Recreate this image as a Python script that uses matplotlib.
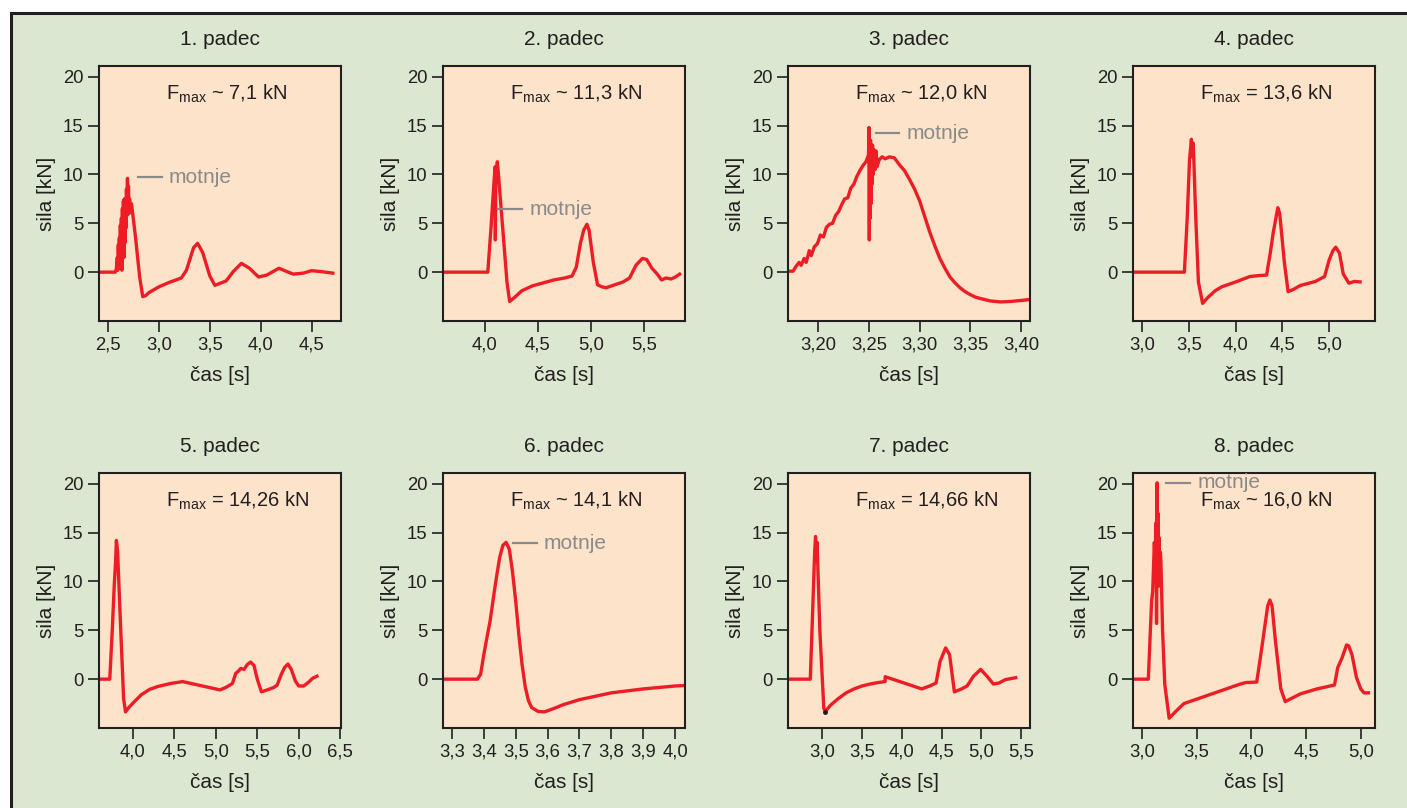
import numpy as np
import matplotlib
matplotlib.use("Agg")
import matplotlib.pyplot as plt
from matplotlib.patches import Rectangle

plt.rcParams['font.family'] = ['Liberation Sans', 'DejaVu Sans']
plt.rcParams['mathtext.fontset'] = 'custom'
plt.rcParams['mathtext.rm'] = 'Liberation Sans'

# --- data: time [s], force [kN] ---
t1 = [2.41, 2.57, 2.58, 2.59, 2.595, 2.60, 2.605, 2.61, 2.615, 2.62, 2.625, 2.63, 2.635, 2.64,
      2.645, 2.65, 2.655, 2.66, 2.665, 2.67, 2.675, 2.68, 2.685, 2.69, 2.695, 2.70, 2.705, 2.71,
      2.72, 2.73, 2.77, 2.81, 2.84, 2.87, 2.90, 2.95, 3.00, 3.10, 3.22, 3.27, 3.34, 3.38, 3.43,
      3.50, 3.55, 3.66, 3.73, 3.81, 3.89, 3.98, 4.06, 4.18, 4.26, 4.32, 4.42, 4.50, 4.60, 4.71]
f1 = [0, 0, 0.3, 1.5, 0.2, 2.8, 0.5, 3.5, 0.4, 4.8, 0.8, 5.5, 0.2, 6.5,
      2.5, 7.3, 1.5, 7.5, 3.0, 6.8, 4.5, 8.5, 5.8, 9.6, 6.5, 8.8, 6.0, 7.5,
      6.8, 7.0, 3.5, -0.5, -2.5, -2.4, -2.1, -1.8, -1.5, -1.05, -0.6, 0.2, 2.5, 2.95, 2.0,
      -0.4, -1.35, -0.9, 0.05, 0.9, 0.4, -0.5, -0.3, 0.4, 0.05, -0.2, -0.1, 0.15, 0.05, -0.1]

t2 = [3.61, 4.03, 4.06, 4.09, 4.10, 4.101, 4.105, 4.11, 4.12, 4.13, 4.17, 4.21, 4.235, 4.28,
      4.35, 4.45, 4.55, 4.65, 4.75, 4.82, 4.86, 4.90, 4.93, 4.96, 4.98, 5.02, 5.06, 5.10, 5.14,
      5.22, 5.30, 5.36, 5.42, 5.48, 5.52, 5.57, 5.62, 5.66, 5.70, 5.75, 5.79, 5.83]
f2 = [0, 0, 4.5, 9.5, 10.8, 3.3, 9.0, 10.5, 11.3, 10.0, 4.5, -1.0, -3.0, -2.6,
      -1.9, -1.4, -1.1, -0.8, -0.6, -0.4, 0.5, 3.0, 4.3, 4.9, 4.3, 1.0, -1.3, -1.5, -1.6,
      -1.3, -1.0, -0.6, 0.7, 1.4, 1.3, 0.4, -0.2, -0.8, -0.6, -0.7, -0.5, -0.2]

t3 = [3.171, 3.175, 3.178, 3.181, 3.183, 3.186, 3.188, 3.191, 3.193, 3.196, 3.199, 3.202,
      3.205, 3.208, 3.211, 3.214, 3.217, 3.220, 3.223, 3.226, 3.229, 3.232, 3.235, 3.238,
      3.241, 3.244, 3.247, 3.2495, 3.2500, 3.2503, 3.2506, 3.2510, 3.2515, 3.252, 3.2525,
      3.253, 3.2535, 3.254, 3.255, 3.256, 3.257, 3.258, 3.260, 3.263, 3.266, 3.270, 3.275,
      3.280, 3.285, 3.290, 3.295, 3.300, 3.305, 3.310, 3.315, 3.320, 3.325, 3.330, 3.335,
      3.340, 3.345, 3.350, 3.355, 3.360, 3.370, 3.380, 3.390, 3.400, 3.409]
f3 = [0.1, 0.1, 0.6, 1.0, 0.7, 1.4, 1.0, 2.2, 1.7, 2.6, 2.9, 3.8,
      3.6, 4.6, 4.9, 5.0, 5.8, 6.2, 6.9, 7.5, 7.6, 8.6, 9.0, 9.8,
      10.4, 10.9, 11.3, 12.0, 14.8, 3.3, 12.5, 5.5, 13.5, 7.0, 12.8,
      9.0, 13.0, 10.0, 12.5, 10.5, 12.4, 10.8, 11.5, 11.8, 11.6, 11.8, 11.7,
      11.0, 10.4, 9.5, 8.5, 7.3, 5.7, 4.1, 2.7, 1.4, 0.4, -0.5, -1.1,
      -1.6, -2.0, -2.3, -2.55, -2.7, -2.95, -3.05, -3.0, -2.9, -2.8]

t4 = [2.90, 3.45, 3.48, 3.505, 3.525, 3.535, 3.545, 3.57, 3.60, 3.645, 3.70, 3.78, 3.85,
      4.00, 4.15, 4.25, 4.33, 4.37, 4.40, 4.45, 4.47, 4.52, 4.56, 4.62, 4.69, 4.85, 4.95,
      5.00, 5.04, 5.07, 5.11, 5.15, 5.21, 5.27, 5.33]
f4 = [0, 0, 5.5, 11.5, 13.6, 11.8, 13.2, 6.0, -1.0, -3.2, -2.6, -1.9, -1.5,
      -1.0, -0.45, -0.35, -0.3, 2.0, 4.0, 6.6, 6.0, 1.0, -2.0, -1.75, -1.37, -0.96, -0.45,
      1.26, 2.2, 2.56, 1.95, -0.17, -1.13, -0.95, -1.0]

t5 = [3.59, 3.72, 3.75, 3.775, 3.79, 3.80, 3.815, 3.85, 3.887, 3.91, 3.95, 4.00, 4.10, 4.20,
      4.30, 4.45, 4.60, 5.05, 5.12, 5.20, 5.24, 5.27, 5.30, 5.34, 5.38, 5.42, 5.46, 5.50, 5.55,
      5.62, 5.70, 5.74, 5.79, 5.83, 5.87, 5.91, 5.96, 6.00, 6.06, 6.12, 6.17, 6.22]
f5 = [0, 0, 5.0, 9.8, 12.0, 14.2, 13.0, 5.5, -2.0, -3.35, -2.9, -2.45, -1.6, -1.05,
      -0.75, -0.45, -0.25, -1.1, -0.85, -0.45, 0.6, 0.8, 1.1, 1.0, 1.5, 1.75, 1.4, 0.0, -1.3,
      -1.1, -0.85, -0.6, 0.5, 1.2, 1.55, 1.0, -0.2, -0.7, -0.7, -0.3, 0.1, 0.3]

t6 = [3.272, 3.38, 3.39, 3.40, 3.41, 3.42, 3.43, 3.44, 3.45, 3.46, 3.47, 3.48, 3.49, 3.50,
      3.51, 3.52, 3.53, 3.54, 3.55, 3.57, 3.59, 3.62, 3.65, 3.70, 3.75, 3.80, 3.85, 3.90,
      3.95, 4.00, 4.031]
f6 = [0, 0, 0.5, 2.5, 4.3, 6.0, 8.3, 10.5, 12.5, 13.7, 14.0, 13.3, 11.0, 8.0,
      4.5, 1.5, -0.8, -2.2, -2.9, -3.3, -3.35, -3.0, -2.6, -2.1, -1.75, -1.4, -1.2, -1.0,
      -0.85, -0.7, -0.65]

t7 = [2.57, 2.85, 2.88, 2.905, 2.916, 2.925, 2.935, 2.97, 3.02, 3.04, 3.10, 3.20, 3.30,
      3.40, 3.50, 3.60, 3.70, 3.79, 3.791, 4.25, 4.35, 4.43, 4.48, 4.55, 4.60, 4.66, 4.75,
      4.82, 4.90, 4.99, 5.07, 5.15, 5.22, 5.30, 5.43]
f7 = [0, 0, 7.0, 13.0, 14.6, 12.5, 14.0, 5.0, -3.0, -3.3, -2.7, -2.0, -1.4,
      -1.0, -0.7, -0.5, -0.35, -0.25, 0.25, -1.0, -0.7, -0.4, 1.8, 3.2, 2.5, -1.3, -1.0,
      -0.7, 0.3, 1.0, 0.3, -0.5, -0.4, -0.05, 0.15]

t8 = [2.92, 3.06, 3.09, 3.10, 3.115, 3.125, 3.13, 3.135, 3.14, 3.145, 3.148, 3.152, 3.157,
      3.163, 3.17, 3.175, 3.19, 3.21, 3.25, 3.32, 3.385, 3.90, 3.95, 4.05, 4.10, 4.15, 4.17,
      4.19, 4.22, 4.27, 4.31, 4.38, 4.45, 4.60, 4.76, 4.79, 4.83, 4.87, 4.89, 4.92, 4.96,
      5.00, 5.03, 5.07]
f8 = [0, 0, 8.0, 9.0, 14.0, 11.0, 16.0, 5.7, 20.1, 13.0, 17.0, 9.5, 14.5,
      11.5, 13.0, 12.0, 5.0, -0.5, -4.0, -3.2, -2.5, -0.5, -0.35, -0.3, 3.5, 7.5, 8.1,
      7.5, 4.0, -1.0, -2.3, -1.9, -1.5, -1.0, -0.6, 1.2, 2.2, 3.5, 3.4, 2.5, 0.2,
      -1.0, -1.4, -1.4]

titles = ['1. padec', '2. padec', '3. padec', '4. padec',
          '5. padec', '6. padec', '7. padec', '8. padec']
fmax_sign = ['~', '~', '~', '=', '=', '~', '=', '~']
fmax_val = ['7,1', '11,3', '12,0', '13,6', '14,26', '14,1', '14,66', '16,0']

xticks = [[2.5, 3.0, 3.5, 4.0, 4.5],
          [4.0, 4.5, 5.0, 5.5],
          [3.20, 3.25, 3.30, 3.35, 3.40],
          [3.0, 3.5, 4.0, 4.5, 5.0],
          [4.0, 4.5, 5.0, 5.5, 6.0, 6.5],
          [3.3, 3.4, 3.5, 3.6, 3.7, 3.8, 3.9, 4.0],
          [3.0, 3.5, 4.0, 4.5, 5.0, 5.5],
          [3.0, 3.5, 4.0, 4.5, 5.0]]
xticklabels = [['2,5', '3,0', '3,5', '4,0', '4,5'],
               ['4,0', '4,5', '5,0', '5,5'],
               ['3,20', '3,25', '3,30', '3,35', '3,40'],
               ['3,0', '3,5', '4,0', '4,5', '5,0'],
               ['4,0', '4,5', '5,0', '5,5', '6,0', '6,5'],
               ['3,3', '3,4', '3,5', '3,6', '3,7', '3,8', '3,9', '4,0'],
               ['3,0', '3,5', '4,0', '4,5', '5,0', '5,5'],
               ['3,0', '3,5', '4,0', '4,5', '5,0']]
yticks = [0, 5, 10, 15, 20]

# "motnje" markers: (line start, line end, text x, y) in data units, None = no marker
motnje = [(2.79, 3.03, 3.09, 9.7),
          (4.125, 4.35, 4.42, 6.45),
          (3.257, 3.280, 3.287, 14.2),
          None,
          None,
          (3.491, 3.566, 3.588, 13.9),
          None,
          (3.223, 3.443, 3.507, 20.1)]

series = [(t1, f1), (t2, f2), (t3, f3), (t4, f4), (t5, f5), (t6, f6), (t7, f7), (t8, f8)]

# --- layout ---
W, H = 1407, 808
xlims = [(2.41, 4.79), (3.61, 5.88), (3.170, 3.409), (2.90, 5.49),
         (3.59, 6.51), (3.272, 4.031), (2.57, 5.61), (2.92, 5.13)]
col_left = [99, 443, 788, 1133]
row_top = [66, 473]
ax_w, ax_h = 242, 255

bg_green = '#dce7d1'
panel_col = '#fde3c9'
red = '#ee1c25'
txt = '#231f20'
grey = '#8a8a8a'

fig = plt.figure(figsize=(W / 100, H / 100), dpi=100, facecolor='white')
fig.patches.append(Rectangle((11 / W, -0.1), 1.2, (H - 13) / H + 0.1,
                             transform=fig.transFigure, facecolor=bg_green,
                             edgecolor='#231f20', lw=2.2, zorder=-10))

for i in range(8):
    r, c = divmod(i, 4)
    ax = fig.add_axes([col_left[c] / W, 1 - (row_top[r] + ax_h) / H, ax_w / W, ax_h / H])
    ax.set_facecolor(panel_col)
    t, f = series[i]
    ax.plot(t, f, color=red, lw=2.4, solid_joinstyle='round')
    if i == 6:
        ax.plot([3.04], [-3.35], 'o', color='#231f20', ms=2.5)

    ax.set_xlim(*xlims[i])
    ax.set_ylim(-5.0, 21.1)
    ax.set_xticks(xticks[i])
    ax.set_xticklabels(xticklabels[i])
    ax.set_yticks(yticks)
    ax.tick_params(direction='out', length=8, width=1.2, labelsize=13.3,
                   colors=txt, pad=3)
    for s in ax.spines.values():
        s.set_linewidth(1.5)
        s.set_color(txt)

    ax.set_title(titles[i], fontsize=15, color=txt, pad=15)
    ax.set_ylabel('sila [kN]', fontsize=15, color=txt, labelpad=5)
    ax.set_xlabel('čas [s]', fontsize=15, color=txt, labelpad=9)

    ax.text(0.275, 0.89, r'F$_{\mathregular{max}}$ ' + fmax_sign[i] + ' ' + fmax_val[i] + ' kN',
            transform=ax.transAxes, ha='left', va='center', fontsize=14.5, color=txt)

    if motnje[i] is not None:
        x0, x1, xt, y = motnje[i]
        ax.plot([x0, x1], [y, y], color=grey, lw=1.6, clip_on=False)
        ax.text(xt, y, 'motnje', color=grey, fontsize=15, ha='left', va='center')

fig.savefig('out.png', dpi=100, facecolor=fig.get_facecolor())
